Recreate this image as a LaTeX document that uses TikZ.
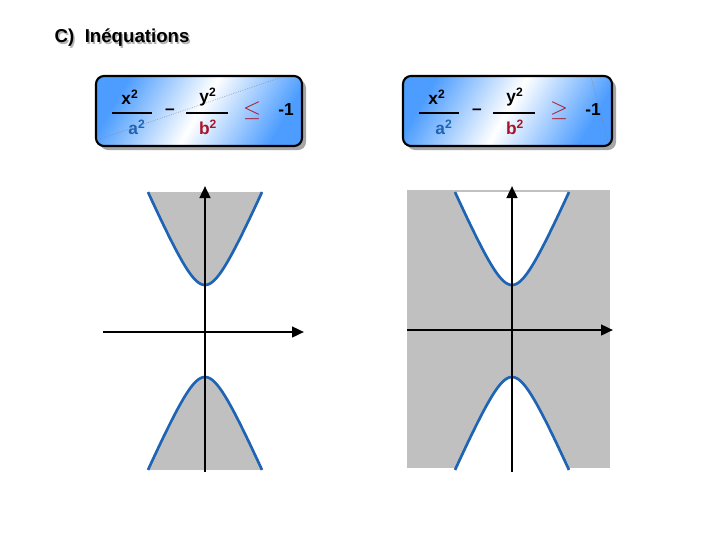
\documentclass[tikz,border=0pt]{standalone}
\usepackage{fontspec}
\setmainfont{Liberation Sans}
\usetikzlibrary{arrows.meta}
\definecolor{myblue}{RGB}{30,100,180}
\definecolor{myred}{RGB}{170,20,40}
\definecolor{shadegray}{RGB}{192,192,192}
\tikzset{
 fbox/.style={rounded corners=6pt, line width=1.6pt, draw=black},
 axis/.style={line width=1.8pt, -{Triangle[length=9pt,width=8pt]}},
 hyp/.style={draw=myblue, line width=2pt},
 ftxt/.style={font=\bfseries\fontsize{13}{13}\selectfont},
 fbar/.style={line width=1.6pt},
}
\begin{document}
\begin{tikzpicture}[x=0.75pt,y=-0.75pt]
\useasboundingbox (0,0) rectangle (720,540);
\fill[white] (0,0) rectangle (720,540);
% title
\node[font=\bfseries\fontsize{14}{14}\selectfont, text=gray!60, anchor=west] at (51.5,39.5) {C)\ \ Inéquations};
\node (title)[font=\bfseries\fontsize{14}{14}\selectfont, anchor=west] at (50,38) {C)\ \ Inéquations};
% boxes
\foreach \xa/\xb/\nm in {96/302/L,403/612/R}{
 \fill[gray!70, rounded corners=6pt] (\xa+4,80) rectangle (\xb+4,150);
 \shade[rounded corners=6pt, left color=blue!55!cyan!70, right color=blue!55!cyan!70, middle color=white, shading angle=60] (\xa,76) rectangle (\xb,146);
 \draw[fbox] (\xa,76) rectangle (\xb,146);
 \coordinate (\nm) at (\xa,76);
}
\draw[densely dotted, gray] (97,140) -- (282,77);
\draw[densely dotted, gray] (591,77) -- (609,144);
% left formula
\foreach \dx/\rel in {0/{\ensuremath{\le}},307/{\ensuremath{\ge}}}{
 \begin{scope}[xshift=\dx*0.75pt]
 \node[ftxt] (xn) at (130,97) {x\textsuperscript{2}};
 \draw[fbar] (112,113) -- (152,113);
 \node[ftxt, text=myblue] (ad) at (137,127) {a\textsuperscript{2}};
 \node[ftxt] (mi) at (170,112) {--};
 \node[ftxt] (yn) at (208,97) {y\textsuperscript{2}};
 \draw[fbar] (186,113) -- (228,113);
 \node[ftxt, text=myred] (bd) at (208,127) {b\textsuperscript{2}};
 \node[ftxt, text=myred, font=\bfseries\fontsize{16}{16}\selectfont] (rel) at (252,111) {\rel};
 \node[ftxt] (m1) at (286,110) {-1};
 \end{scope}
}
% left graph
\fill[shadegray] plot[domain=-57:57, samples=60, smooth] ({205+\x},{331-46*sqrt(1+(\x/20)^2)}) -- cycle;
\fill[shadegray] plot[domain=-57:57, samples=60, smooth] ({205+\x},{331+46*sqrt(1+(\x/20)^2)}) -- cycle;
\draw[hyp] plot[domain=-57:57, samples=60, smooth] ({205+\x},{331-46*sqrt(1+(\x/20)^2)});
\draw[hyp] plot[domain=-57:57, samples=60, smooth] ({205+\x},{331+46*sqrt(1+(\x/20)^2)});
\coordinate (lb) at (205,472); \coordinate (lt) at (205,186);
\coordinate (ll) at (103,332); \coordinate (lr) at (304,332);
\draw[axis] (lb) -- (lt);
\draw[axis] (ll) -- (lr);
% right graph
\fill[shadegray] (407,190) rectangle (610,468);
\fill[white] plot[domain=-57:57, samples=60, smooth] ({512+\x},{331-46*sqrt(1+(\x/20)^2)}) -- cycle;
\fill[white] plot[domain=-57:57, samples=60, smooth] ({512+\x},{331+46*sqrt(1+(\x/20)^2)}) -- cycle;
\draw[hyp] plot[domain=-57:57, samples=60, smooth] ({512+\x},{331-46*sqrt(1+(\x/20)^2)});
\draw[hyp] plot[domain=-57:57, samples=60, smooth] ({512+\x},{331+46*sqrt(1+(\x/20)^2)});
\coordinate (rb) at (512,472); \coordinate (rt) at (512,186);
\coordinate (rl) at (407,330); \coordinate (rr) at (613,330);
\draw[axis] (rb) -- (rt);
\draw[axis] (rl) -- (rr);
\end{tikzpicture}
\end{document}
